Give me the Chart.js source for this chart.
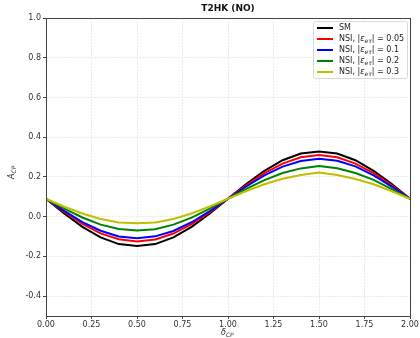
<!DOCTYPE html>
<html>
<head>
<meta charset="utf-8">
<script src="https://cdn.jsdelivr.net/npm/chart.js@4/dist/chart.umd.min.js"></script>
<style>
  html, body { margin: 0; padding: 0; background: #fff; }
  #wrap { width: 420px; height: 338px; }
</style>
</head>
<body>
<div id="wrap"><canvas id="c" width="420" height="338"></canvas></div>
<script>
const deltaCP = [0, 0.1, 0.2, 0.3, 0.4, 0.5, 0.6, 0.7, 0.8, 0.9, 1.0,
                 1.1, 1.2, 1.3, 1.4, 1.5, 1.6, 1.7, 1.8, 1.9, 2.0];
const sm     = [0.09, 0.016, -0.051, -0.104, -0.138, -0.148, -0.138, -0.104, -0.051, 0.016, 0.09,
                0.164, 0.231, 0.284, 0.318, 0.328, 0.318, 0.284, 0.231, 0.164, 0.09];
const nsi005 = [0.09, 0.024, -0.036, -0.084, -0.114, -0.125, -0.115, -0.085, -0.037, 0.022, 0.09,
                0.158, 0.219, 0.267, 0.299, 0.31, 0.299, 0.267, 0.219, 0.158, 0.09];
const nsi01  = [0.09, 0.029, -0.027, -0.071, -0.1, -0.108, -0.099, -0.072, -0.028, 0.028, 0.09,
                0.152, 0.208, 0.252, 0.28, 0.292, 0.281, 0.253, 0.208, 0.151, 0.09];
const nsi02  = [0.09, 0.04, -0.004, -0.04, -0.062, -0.07, -0.063, -0.04, -0.005, 0.04, 0.09,
                0.14, 0.184, 0.22, 0.243, 0.255, 0.244, 0.22, 0.185, 0.139, 0.09];
const nsi03  = [0.09, 0.05, 0.016, -0.012, -0.029, -0.033, -0.029, -0.012, 0.016, 0.051, 0.09,
                0.129, 0.163, 0.191, 0.21, 0.222, 0.21, 0.19, 0.163, 0.128, 0.09];

const xTicks = [0, 0.25, 0.5, 0.75, 1.0, 1.25, 1.5, 1.75, 2.0];
const yTicks = [-0.4, -0.2, 0.0, 0.2, 0.4, 0.6, 0.8, 1.0];

const series = [
  { name: "SM",  values: sm,     color: "#000000" },
  { name: "0.05", values: nsi005, color: "#ff0000" },
  { name: "0.1",  values: nsi01,  color: "#0000ff" },
  { name: "0.2",  values: nsi02,  color: "#008000" },
  { name: "0.3",  values: nsi03,  color: "#bfbf00" },
];

const FONT = "DejaVu Sans";

// draw text with a subscript part
function subText(ctx, x, y, main, sub, size, italic) {
  ctx.font = (italic ? "italic " : "") + size + "px '" + FONT + "'";
  ctx.fillText(main, x, y);
  const w = ctx.measureText(main).width;
  ctx.font = (italic ? "italic " : "") + Math.round(size * 0.7) + "px '" + FONT + "'";
  ctx.fillText(sub, x + w, y + size * 0.25);
  return w + ctx.measureText(sub).width;
}

const decorations = {
  id: "decorations",
  afterDraw(chart) {
    const { ctx, chartArea: a } = chart;
    ctx.save();
    // frame
    ctx.strokeStyle = "#444";
    ctx.lineWidth = 1;
    ctx.strokeRect(a.left + 0.5, a.top + 0.5, a.right - a.left, a.bottom - a.top);

    // title
    ctx.fillStyle = "#111";
    ctx.textBaseline = "middle";
    ctx.textAlign = "center";
    ctx.font = "bold 9px '" + FONT + "'";
    ctx.fillText("T2HK (NO)", (a.left + a.right) / 2, 9);

    // x axis title
    ctx.textAlign = "left";
    ctx.fillStyle = "#333";
    let cx = (a.left + a.right) / 2 - 7;
    subText(ctx, cx, 333, "δ", "CP", 8, true);

    // y axis title (rotated)
    ctx.save();
    ctx.translate(12, 172);
    ctx.rotate(-Math.PI / 2);
    subText(ctx, -7, 0, "A", "CP", 8, true);
    ctx.restore();

    // legend
    const lx = a.right - 97, ly = a.top + 3, lw = 94, lh = 57;
    ctx.fillStyle = "rgba(255,255,255,0.85)";
    ctx.strokeStyle = "#d8d8d8";
    ctx.beginPath();
    ctx.roundRect(lx + 0.5, ly + 0.5, lw, lh, 2);
    ctx.fill();
    ctx.stroke();
    series.forEach((s, i) => {
      const y = ly + 7 + i * 11;
      ctx.strokeStyle = s.color;
      ctx.lineWidth = 2;
      ctx.beginPath();
      ctx.moveTo(lx + 4, y);
      ctx.lineTo(lx + 20, y);
      ctx.stroke();
      ctx.fillStyle = "#222";
      ctx.textAlign = "left";
      let x = lx + 26;
      if (i === 0) {
        ctx.font = "8px '" + FONT + "'";
        ctx.fillText("SM", x, y);
      } else {
        ctx.font = "8px '" + FONT + "'";
        ctx.fillText("NSI, |", x, y);
        x += ctx.measureText("NSI, |").width;
        x += subText(ctx, x, y, "ε", "eτ", 8, true);
        ctx.font = "8px '" + FONT + "'";
        ctx.fillText("| = " + s.name, x, y);
      }
    });
    ctx.restore();
  }
};

new Chart(document.getElementById("c"), {
  type: "line",
  data: {
    datasets: series.map((s, i) => ({
      label: s.name,
      data: deltaCP.map((d, j) => ({ x: d, y: s.values[j] })),
      borderColor: s.color,
      borderWidth: 2,
      pointRadius: 0,
      fill: false,
      tension: 0,
      order: series.length - i,
    })),
  },
  options: {
    responsive: false,
    animation: false,
    layout: { padding: { top: 18, right: 10, left: 0, bottom: 0 } },
    plugins: { legend: { display: false }, tooltip: { enabled: false } },
    scales: {
      x: {
        type: "linear",
        min: 0,
        max: 2,
        afterBuildTicks: (scale) => { scale.ticks = xTicks.map(v => ({ value: v })); },
        afterFit: (scale) => { scale.height = 22; },
        ticks: {
          autoSkip: false,
          maxRotation: 0,
          padding: 1,
          color: "#333",
          font: { family: FONT, size: 8 },
          callback: (v) => v.toFixed(2),
        },
        grid: { color: "#ebebeb", tickColor: "#444", tickLength: 3, drawOnChartArea: true },
        border: { display: false, dash: [2, 1] },
      },
      y: {
        min: -0.5,
        max: 1.0,
        afterBuildTicks: (scale) => { scale.ticks = yTicks.map(v => ({ value: v })); },
        afterFit: (scale) => { scale.width = 46; },
        ticks: {
          padding: 2,
          color: "#333",
          font: { family: FONT, size: 8 },
          callback: (v) => v.toFixed(1),
        },
        grid: { color: "#ebebeb", tickColor: "#444", tickLength: 3 },
        border: { display: false, dash: [2, 1] },
      },
    },
  },
  plugins: [decorations],
});
</script>
</body>
</html>
